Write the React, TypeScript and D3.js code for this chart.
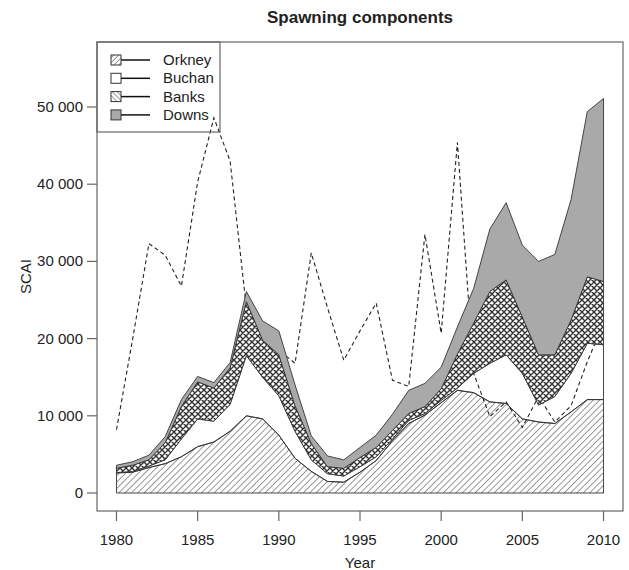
import React from "react";
import * as d3 from "d3";

const years = d3.range(1980, 2011);
const orkney = [2600, 2700, 3300, 3800, 4700, 6000, 6600, 8000, 10000, 9600, 7500, 4500, 2800, 1500, 1400, 2700, 4200, 6800, 9000, 10100, 11700, 13300, 13000, 11800, 11600, 9600, 9200, 9000, 10500, 12100, 12100];
const buchan = [50, 100, 200, 500, 2300, 3600, 2700, 3500, 7800, 5400, 5100, 3500, 1500, 1000, 800, 700, 500, 200, 400, 200, 300, 300, 2500, 5000, 6300, 5900, 2200, 3500, 5000, 7300, 7100];
const banks = [550, 800, 800, 2200, 4200, 4800, 4300, 4700, 7000, 4800, 5300, 3300, 2100, 900, 1000, 1200, 1200, 1100, 900, 900, 1500, 4400, 6500, 9300, 9700, 7300, 6500, 5400, 6900, 8600, 8200];
const downs = [400, 450, 600, 800, 900, 700, 700, 700, 1300, 2500, 3100, 2700, 1000, 1400, 1100, 1300, 1600, 2100, 3000, 3000, 2800, 3500, 4500, 8100, 10000, 9300, 12100, 13000, 15600, 21400, 23700];
const survey = [8200, 20000, 32300, 30800, 26800, 40300, 48600, 43000, 24000, 21000, 18500, 16800, 31100, 24000, 17200, 21000, 24600, 14600, 13800, 33500, 20700, 45400, 15500, 9900, 11800, 8500, 12500, 9200, 11300, 17000, 22000];
const seriesNames = ["Orkney", "Buchan", "Banks", "Downs"];
const xTicks = [1980, 1985, 1990, 1995, 2000, 2005, 2010];
const yTicks = [0, 10000, 20000, 30000, 40000, 50000];

const W = 629, H = 570;
const L = 97, R = 623, T = 42, B = 511;
const FONT = "'Liberation Sans', Arial, Helvetica, sans-serif";

export default function App() {
  const x = d3.scaleLinear().domain([1978.8, 2011.2]).range([L, R]);
  const y = d3.scaleLinear().domain([-2330, 58420]).range([B, T]);
  const rows = years.map((yr, i) => ({ year: yr, Orkney: orkney[i], Buchan: buchan[i], Banks: banks[i], Downs: downs[i] }));
  const stacked = d3.stack<any>().keys(seriesNames)(rows);
  const area = d3.area<any>().x((d: any) => x(d.data.year)).y0((d: any) => y(d[0])).y1((d: any) => y(d[1]));
  const line = d3.line<number>().x((_, i) => x(years[i])).y((v) => y(v));
  const fills: Record<string, string> = { Orkney: "url(#hatchO)", Buchan: "none", Banks: "url(#cross)", Downs: "#a9a9a9" };
  const legFills: Record<string, string> = { Orkney: "url(#hatchLO)", Buchan: "#fff", Banks: "url(#hatchLB)", Downs: "#a9a9a9" };
  const fmt = (v: number) => d3.format(",")(v).replace(/,/g, " ");
  const axisCol = "#666";
  const textCol = "#222";

  return (
    <svg width={W} height={H} style={{ position: "absolute", left: 0, top: 0, background: "#fff" }} fontFamily={FONT}>
      <defs>
        <pattern id="hatchO" patternUnits="userSpaceOnUse" width={4.5} height={4.5} patternTransform="rotate(45)">
          <line x1={0} y1={0} x2={0} y2={4.5} stroke="#333" strokeWidth={1} />
        </pattern>
        <pattern id="cross" patternUnits="userSpaceOnUse" width={6} height={6}>
          <rect width={6} height={6} fill="#fff" />
          <path d="M0,0L6,6M6,0L0,6M-1,5L1,7M5,-1L7,1M-1,1L1,-1M5,7L7,5" stroke="#333" strokeWidth={1.4} />
        </pattern>
        <pattern id="hatchLO" patternUnits="userSpaceOnUse" width={3.5} height={3.5} patternTransform="rotate(45)">
          <rect width={3.5} height={3.5} fill="#fff" />
          <line x1={0} y1={0} x2={0} y2={3.5} stroke="#333" strokeWidth={1} />
        </pattern>
        <pattern id="hatchLB" patternUnits="userSpaceOnUse" width={3.5} height={3.5} patternTransform="rotate(-45)">
          <rect width={3.5} height={3.5} fill="#fff" />
          <line x1={0} y1={0} x2={0} y2={3.5} stroke="#333" strokeWidth={1} />
        </pattern>
      </defs>

      <text x={(L + R) / 2} y={23} textAnchor="middle" fontWeight="bold" fontSize={17} fill={textCol}>Spawning components</text>

      <path d={line(survey) || ""} fill="none" stroke="#222" strokeWidth={1.1} strokeDasharray="4,3" />

      {stacked.map((s) => (
        <path key={s.key} d={area(s as any) || ""} fill={fills[s.key]} stroke="#333" strokeWidth={0.9} strokeLinejoin="round" />
      ))}

      <rect x={L} y={T} width={R - L} height={B - T} fill="none" stroke={axisCol} strokeWidth={1.2} />

      {xTicks.map((t) => (
        <g key={t}>
          <line x1={x(t)} x2={x(t)} y1={B} y2={B + 10} stroke={axisCol} strokeWidth={1.2} />
          <text x={x(t)} y={545} textAnchor="middle" fontSize={15} fill={textCol}>{t}</text>
        </g>
      ))}
      {yTicks.map((t) => (
        <g key={t}>
          <line x1={L - 10} x2={L} y1={y(t)} y2={y(t)} stroke={axisCol} strokeWidth={1.2} />
          <text x={83} y={y(t) + 5} textAnchor="end" fontSize={15} fill={textCol}>{fmt(t)}</text>
        </g>
      ))}
      <text x={(L + R) / 2} y={568} textAnchor="middle" fontSize={15} fill={textCol}>Year</text>
      <text transform={`translate(31,${(T + B) / 2}) rotate(-90)`} textAnchor="middle" fontSize={15} fill={textCol}>SCAI</text>

      <rect x={L} y={T} width={220 - L} height={132 - T} fill="none" stroke={axisCol} strokeWidth={1.2} />
      {seriesNames.map((n, i) => {
        const cy = 60 + i * 18.3;
        return (
          <g key={n}>
            <line x1={121} x2={150} y1={cy} y2={cy} stroke="#111" strokeWidth={1.5} />
            <rect x={111} y={cy - 5} width={10} height={10} fill={legFills[n]} stroke="#333" strokeWidth={1} />
            <text x={163} y={cy + 5} fontSize={15} fill={textCol}>{n}</text>
          </g>
        );
      })}
    </svg>
  );
}
